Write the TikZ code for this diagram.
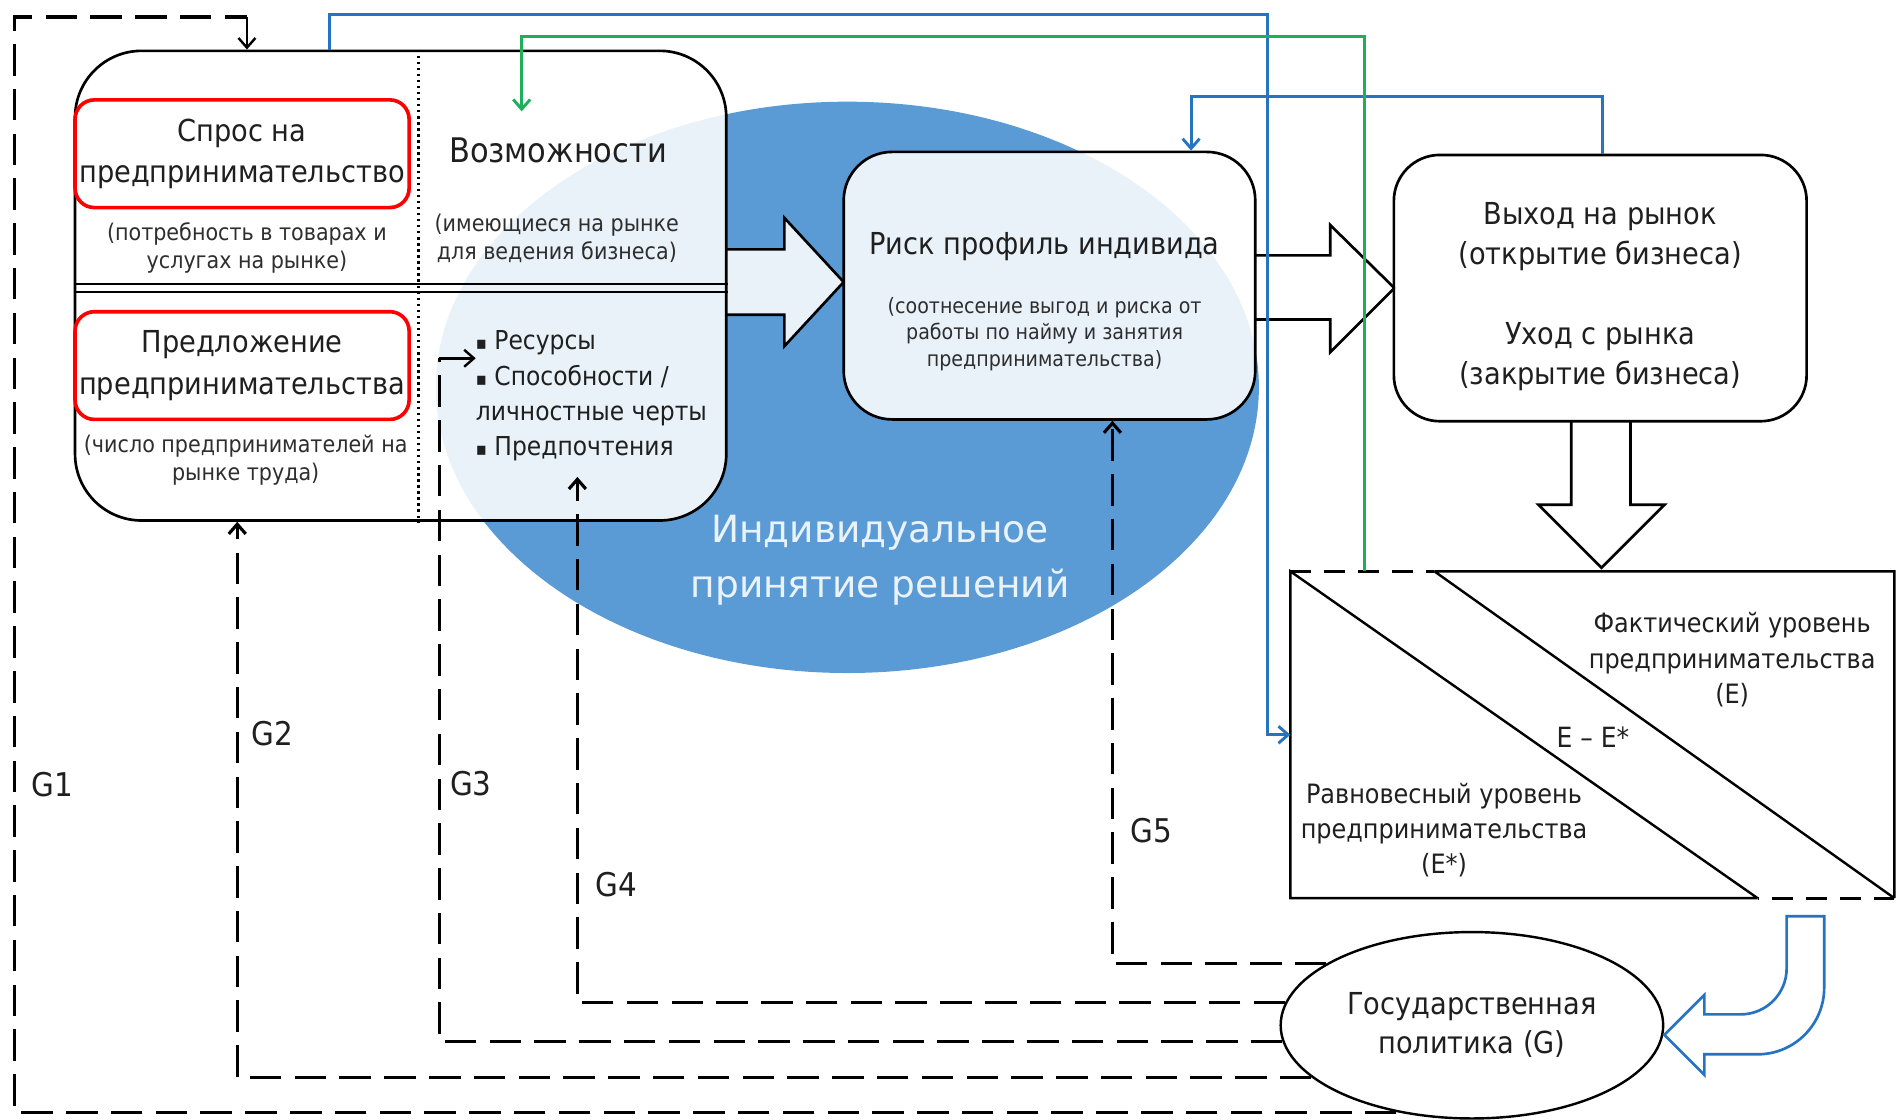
\documentclass[tikz,border=0pt]{standalone}
\usepackage{fontspec}
\setmainfont{DejaVu Sans Condensed}
\newfontfamily\widefont{DejaVu Sans}
\usetikzlibrary{arrows.meta,shapes.geometric}
\definecolor{ellblue}{HTML}{5B9BD5}
\definecolor{lineblue}{HTML}{2673C2}
\definecolor{linegreen}{HTML}{1DAF5A}
\newcommand{\setsz}[2]{\fontsize{#1}{#2}\selectfont}
\newcommand{\sqbul}{{\setsz{15}{29}▪}}

\begin{document}
\begin{tikzpicture}
	[x=1pt, y=1pt,
	>={Straight Barb[length=8pt,width=14pt]},
	every node/.style={align=center, inner sep=0pt, text=black!88},
	panel/.style={draw, line width=2.2pt, fill=white, fill opacity=.87, text opacity=1},
	redbox/.style={draw=red, line width=3pt, rounded corners=16pt, minimum width=276, minimum height=89},
	headtext/.style={font=\setsz{25}{34}},
	subtext/.style={font=\setsz{19}{23}, text=black!82},
	leveltext/.style={font=\setsz{22}{29}},
	glabel/.style={font=\setsz{27}{30}},
	bigarrow/.style={draw, line width=2.2pt, fill=white, fill opacity=.87, line join=miter},
	gline/.style={line width=2.6pt, dash pattern=on 26pt off 11pt},
	flow/.style={line width=2.4pt}]
	\useasboundingbox (0,0) rectangle (1568,-925);
	\fill[ellblue] (700,-320) ellipse [x radius=340, y radius=236];
	\node[font=\widefont\setsz{31}{45}, text=white!88!ellblue] (indiv) at (727,-463) {Индивидуальное\\принятие решений};
	\draw[bigarrow] (600,-206) -- (648,-206) -- (648,-180) -- (697,-233) -- (648,-286) -- (648,-260) -- (600,-260);
	\draw[bigarrow] (1036,-211) -- (1099,-211) -- (1099,-186) -- (1152,-238) -- (1099,-291) -- (1099,-264) -- (1036,-264);
	\draw[bigarrow] (1298,-348) -- (1298,-417) -- (1271,-417) -- (1323,-469) -- (1375,-417) -- (1347,-417) -- (1347,-348);
	\node[panel, rounded corners=55pt, minimum width=538, minimum height=388] (factors) at (331,-236) {};
	\node[panel, rounded corners=40pt, minimum width=340, minimum height=221] (risk) at (867,-236) {};
	\node[panel, rounded corners=38pt, minimum width=341, minimum height=220] (market) at (1322,-238) {};
	\draw[line width=2.4pt, dash pattern=on 2pt off 3pt] ([xshift=15pt]factors.north) -- ([xshift=15pt]factors.south);
	\draw[line width=1.6pt] ([yshift=1pt]factors.west) -- ([yshift=1pt]factors.east);
	\draw[line width=1.6pt] ([yshift=-5pt]factors.west) -- ([yshift=-5pt]factors.east);
	\node[redbox, headtext] (demand) at (200,-127) {Спрос на\\предпринимательство};
	\node[subtext] (demandnote) at (204,-205) {(потребность в товарах и\\услугах на рынке)};
	\node[headtext, font=\setsz{28}{34}] (opp) at (461,-124) {Возможности};
	\node[subtext] (oppnote) at (460,-197) {(имеющиеся на рынке\\для ведения бизнеса)};
	\node[redbox, headtext] (supply) at (200,-302) {Предложение\\предпринимательства};
	\node[subtext] (supplynote) at (203,-380) {(число предпринимателей на\\рынке труда)};
	\node[font=\setsz{21.5}{29}, align=left, anchor=west] (assets) at (393,-327) {\sqbul\ Ресурсы\\\sqbul\ Способности /\\личностные черты\\\sqbul\ Предпочтения};
	\node[headtext] (risktitle) at (863,-204) {Риск профиль индивида};
	\node[subtext, font=\setsz{17.5}{22}] (risknote) at (863,-276) {(соотнесение выгод и риска от\\работы по найму и занятия\\предпринимательства)};
	\node[headtext, font=\setsz{25}{33}] (markettext) at (1322,-245) {Выход на рынок\\(открытие бизнеса)\\[33pt]Уход с рынка\\(закрытие бизнеса)};
	\coordinate (lvlA) at (1066,-472);
	\coordinate (lvlP) at (1185,-472);
	\coordinate (lvlB) at (1565,-472);
	\coordinate (lvlC) at (1565,-742);
	\coordinate (lvlQ) at (1452,-742);
	\coordinate (lvlD) at (1066,-742);
	\draw[line width=2pt] (lvlP) -- (lvlB) -- (lvlC) (lvlQ) -- (lvlD) -- (lvlA) -- (lvlQ) (lvlP) -- (lvlC);
	\draw[line width=2.4pt, dash pattern=on 17pt off 11pt] (lvlA) -- (lvlP) (lvlC) -- (lvlQ);
	\node[leveltext] (actual) at (1431,-545) {Фактический уровень\\предпринимательства\\(E)};
	\node[font=\setsz{23}{26}] (gap) at (1316,-609) {E – E*};
	\node[leveltext] (equil) at (1193,-686) {Равновесный уровень\\предпринимательства\\(E*)};
	\node[draw, ellipse, line width=2pt, fill=white, minimum width=316, minimum height=154, font=\setsz{25}{32}] (gov) at (1216,-847) {Государственная\\политика (G)};
	\draw[line width=2.2pt, draw=lineblue, fill=white] (1476,-757) -- (1476,-800) arc[start angle=0, end angle=-90, radius=38] -- (1408,-838) -- (1408,-822) -- (1375,-855) -- (1408,-888) -- (1408,-871) -- (1452,-871) arc[start angle=-90, end angle=0, radius=55] -- (1507,-757) -- cycle;
	\coordinate (lvlin) at (1066,-607);
	\draw[flow, lineblue, ->] ([xshift=-59pt]factors.north) |- (1047,-12) |- (lvlin);
	\draw[flow, lineblue, ->] ([xshift=2pt]market.north) -- ++(0,47) -| ([xshift=117pt]risk.north);
	\coordinate (oppin) at (431,-92);
	\draw[flow, linegreen, ->] ([xshift=61pt]lvlA) -- ++(0,442) -| (oppin);
	\coordinate (g1top) at (204,-14);
	\draw[gline] (gov.229.3) -| (12,-14) -- (g1top);
	\draw[line width=2pt, ->] (g1top) -- (g1top |- factors.north);
	\draw[gline, ->] (gov.198.2) -| ([xshift=-135pt]factors.south);
	\coordinate (g3bend) at (363,-296);
	\coordinate (g3end) at (393,-296);
	\draw[gline] (gov.185.1) -| (g3bend);
	\draw[line width=2pt, ->] (g3bend) -- (g3end);
	\coordinate (g4end) at (477,-394);
	\draw[gline, ->] (gov.173.3) -| (g4end);
	\draw[gline, ->] (gov.157.4) -| ([xshift=52pt]risk.south);
	\node[glabel] (g1) at (43,-648) {G1};
	\node[glabel] (g2) at (225,-606) {G2};
	\node[glabel] (g3) at (389,-647) {G3};
	\node[glabel] (g4) at (509,-731) {G4};
	\node[glabel] (g5) at (951,-686) {G5};
\end{tikzpicture}
\end{document}
